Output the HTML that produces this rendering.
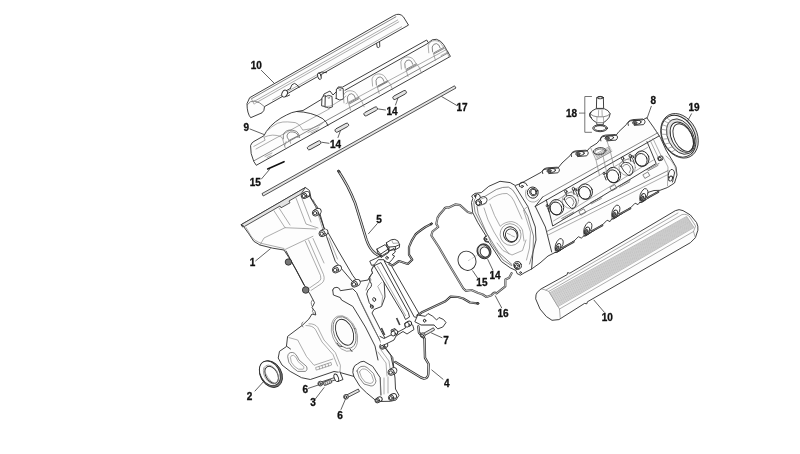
<!DOCTYPE html>
<html><head><meta charset="utf-8"><title>Engine covers</title>
<style>
html,body{margin:0;padding:0;background:#fff;}
svg{display:block;filter:grayscale(1)}
  .o{fill:#fdfdfd;stroke:#2b2b2b;stroke-width:0.9;stroke-linejoin:round;stroke-linecap:round}
.w{fill:#fff;stroke:#2b2b2b;stroke-width:0.9;stroke-linejoin:round;stroke-linecap:round}
.n{fill:none;stroke:#2b2b2b;stroke-width:0.9;stroke-linejoin:round;stroke-linecap:round}
.i{fill:none;stroke:#808080;stroke-width:0.65;stroke-linejoin:round;stroke-linecap:round}
.m{fill:none;stroke:#555;stroke-width:0.7;stroke-linejoin:round;stroke-linecap:round}
.g{fill:#e4e4e4;stroke:#2b2b2b;stroke-width:0.8;stroke-linejoin:round}
.d{fill:#777;stroke:#222;stroke-width:0.8}
.l{stroke:#3a3a3a;stroke-width:0.8;fill:none;stroke-linecap:round}
.s{stroke:#444;stroke-width:1.7;fill:none;stroke-linecap:butt}
.k{stroke:#111;stroke-width:1.6;fill:none;stroke-linecap:round}
text{font-family:"Liberation Sans",sans-serif;font-weight:bold;font-size:10px;fill:#111;stroke:#111;stroke-width:0.3px;text-anchor:middle}
</style></head><body>
<svg width="800" height="454" viewBox="0 0 800 454">
<rect width="800" height="454" fill="#fff"/>
<path class="o" d="M250,97.5 L393.8,15.6 Q399.4,12.4 403.4,16.8 L408.5,25.1 L264.5,106.6 L263.9,110.4 L262,112.8 L250.7,117.7 Q247,113.5 247,104 Z"/>
<line class="m" x1="251.9" y1="98.5" x2="395.9" y2="16.8"/>
<line class="i" x1="253.7" y1="101.7" x2="397.7" y2="20.0"/>
<line class="i" x1="254.8" y1="103.5" x2="398.8" y2="21.8"/>
<line class="i" x1="272.6" y1="100.0" x2="401.6" y2="26.8"/>
<path class="m" d="M247.4,104.6 Q250,100.6 254.5,101 Q260,102 264.5,106.6"/>
<path class="i" d="M251,98 L254,104"/>
<path class="n" d="M290.3,88.2 Q291.5,83.6 294.5,83.4 Q297,84 299.2,87.6"/>
<ellipse class="w" cx="284.6" cy="93.6" rx="2.6" ry="3.6" transform="rotate(25 284.6 93.6)"/>
<path class="n" d="M286.5,90.6 L290.5,88.4 M286.8,96.4 L289.6,95"/>
<ellipse class="w" cx="319.4" cy="76.2" rx="1.7" ry="3.4" transform="rotate(-15 319.4 76.2)"/>
<path class="n" d="M318.6,73 Q321,71 326.5,72.6"/>
<path class="n" d="M376.6,43.6 L377.2,47.2 Q378.6,48.2 379.8,46.6 L379.6,42.4"/>
<path class="o" d="M250.7,145.2 Q252,142 254,141.4 L263.9,135.8 L266.4,131.4 Q270,126 275.2,122 Q281,117.5 286.5,115 Q292,112 296.5,111.5 L303,110.5 L322,99 L324,94 L330,91 L333,95 L337,91 L338,87 L342.5,87.1 L426.7,40 L428.4,42.8 Q432,38.6 436.5,39.3 Q441,40.6 443.6,44.6 L450.4,56.4 L256.3,165.3 L253.8,161.5 L251.3,154 Z"/>
<line class="m" x1="253.8" y1="160.9" x2="448.6" y2="52.6"/>
<line class="i" x1="256" y1="149" x2="330" y2="108.5"/>
<line class="n" x1="345" y1="90.3" x2="428.2" y2="43.2"/>
<path class="n" d="M296.5,111.5 Q312,112 322.9,118.8 Q327,122 328,125.7"/>
<path class="i" d="M266.4,131.4 Q272,126 277.7,123.2 Q283,121.5 287.7,121.9 L295.3,122.6 Q299,124 300.3,126.3 L302.8,130.1 L310.4,128.8 L320.4,125.1 L322.9,122.6"/>
<path class="i" d="M264.5,137 Q268,135.4 272.7,135.1 Q278,135 281.5,137 Q283,139 283.3,141.4 L285.2,147.7"/>
<path class="m" d="M283.3,138.9 Q283,135 284,133.2 Q286,130.6 289,130.1 Q293,129.8 296.5,131.4 Q298.4,133 299,135.1 L299.6,137.6"/>
<path class="m" d="M288.4,139.5 Q286.6,137 287.1,135.1 Q288,132.6 290.3,132 Q293,131.6 295.3,132.6 Q297.4,133.6 297.8,135.1 L298,137.6"/>
<path class="m" d="M288.6,140.6 L296.5,136.6"/>
<path class="i" d="M253.8,146.4 L265.1,140.2 L263.9,137"/>
<path class="i" d="M284.6,146 L286.2,141.5 M290.6,143.4 L290,140.4"/>
<path class="i" d="M308,132.5 L319,127.5 M311,133 L318,129.8"/>
<path class="i" d="M265,156.5 L272,153 M267,157.6 L271,155.6"/>
<path class="w" d="M321.6,105.4 L322,97.8 Q323,95.8 325.5,95.6 L325.5,106.4 Z"/>
<path class="w" d="M325,106.8 L325.2,96.8 Q328.5,94.2 332,96.4 L332.4,106.9 Q328.7,109.3 325,106.8 Z"/>
<path class="w" d="M336.2,98.6 L336.4,89 Q339.8,86.4 343.2,88.6 L343.5,99 Q339.8,101.4 336.2,98.6 Z"/>
<ellipse class="i" cx="328.7" cy="97.8" rx="0.9" ry="0.7" transform="rotate(0 328.7 97.8)"/>
<ellipse class="i" cx="339.9" cy="90" rx="0.9" ry="0.7" transform="rotate(0 339.9 90)"/>
<path class="i" d="M323,106 Q330,108 336,103 Q342,100 346,96"/>
<line class="i" x1="346" y1="103.6" x2="446.4" y2="49.6"/>
<path class="i" d="M344.0,102.89999999999999 L343.40000000000003,95.7 Q345.1,90.8 350.1,90.7 Q355.6,90.89999999999999 357.6,95.8 L361.6,100.8 L364.1,106.8"/>
<path class="m" d="M347.8,101.89999999999999 L347.40000000000003,97.1 Q348.6,93.5 351.6,93.7 Q354.6,94.3 355.40000000000003,98.1"/>
<path class="m" d="M349.1,102.89999999999999 L358.6,97.7 M349.40000000000003,103.89999999999999 L358.90000000000003,98.7"/>
<path class="i" d="M348.6,103.3 L350.6,110.3"/>
<path class="i" d="M372.59999999999997,86.1 L372.0,78.9 Q373.7,74.0 378.7,73.9 Q384.2,74.1 386.2,79.0 L390.2,84.0 L392.7,90.0"/>
<path class="m" d="M376.4,85.1 L376.0,80.3 Q377.2,76.7 380.2,76.9 Q383.2,77.5 384.0,81.3"/>
<path class="m" d="M377.7,86.1 L387.2,80.9 M378.0,87.1 L387.5,81.9"/>
<path class="i" d="M377.2,86.5 L379.2,93.5"/>
<path class="i" d="M401.4,69.1 L400.8,61.9 Q402.5,57.0 407.5,56.9 Q413,57.1 415,62.0 L419,67.0 L421.5,73.0"/>
<path class="m" d="M405.2,68.1 L404.8,63.3 Q406,59.7 409,59.9 Q412,60.5 412.8,64.3"/>
<path class="m" d="M406.5,69.1 L416,63.9 M406.8,70.1 L416.3,64.9"/>
<path class="i" d="M406,69.5 L408,76.5"/>
<path class="i" d="M428.79999999999995,52.800000000000004 L428.2,45.6 Q429.9,40.7 434.9,40.6 Q440.4,40.800000000000004 442.4,45.7 L446.4,50.7 L448.9,56.7"/>
<path class="m" d="M432.59999999999997,51.800000000000004 L432.2,47.0 Q433.4,43.400000000000006 436.4,43.6 Q439.4,44.2 440.2,48.0"/>
<path class="m" d="M433.9,52.800000000000004 L443.4,47.6 M434.2,53.800000000000004 L443.7,48.6"/>
<path class="i" d="M433.4,53.2 L435.4,60.2"/>
<path class="i" d="M448,52 L441,55.6"/>
<rect class="g" x="306.7" y="143.5" width="15" height="3.6" rx="1.8" transform="rotate(-28.5 314.2 145.3)"/>
<rect class="g" x="334.3" y="125.9" width="15" height="3.6" rx="1.8" transform="rotate(-28.5 341.8 127.7)"/>
<rect class="g" x="363.2" y="109.60000000000001" width="15" height="3.6" rx="1.8" transform="rotate(-28.5 370.7 111.4)"/>
<rect class="g" x="392.1" y="93.2" width="15" height="3.6" rx="1.8" transform="rotate(-28.5 399.6 95)"/>
<line class="l" x1="322" y1="142.3" x2="329" y2="143.3"/>
<line class="l" x1="340.5" y1="130.5" x2="338" y2="137.5"/>
<line class="l" x1="378.5" y1="109" x2="385.5" y2="110"/>
<line class="l" x1="398" y1="98" x2="395.5" y2="105"/>
<text x="335.5" y="147.6">14</text>
<text x="392" y="115.0">14</text>
<line class="k" x1="267.7" y1="169" x2="284" y2="161.7"/>
<line class="l" x1="261.4" y1="179" x2="269.5" y2="169.5"/>
<text x="255.2" y="186.4">15</text>
<path class="g" d="M262,193.6 L454.5,85.8 L456,88 L263.2,196 Z"/>
<line class="l" x1="441.7" y1="96.6" x2="456.7" y2="105.4"/>
<text x="462" y="111.0">17</text>
<line class="l" x1="261.4" y1="70.4" x2="274" y2="83"/>
<text x="256.3" y="69.0">10</text>
<line class="l" x1="250" y1="129" x2="264" y2="134.5"/>
<text x="246.3" y="131.0">9</text>
<path class="o" d="M241.3,224.6 L305.4,187.5 L309.5,190.5 L311,198 L318,208 L319,214 L324,228 L328,232.5 L337.8,250 L352.8,275.5 L357,281 L360.4,281.3 L368,280 L369.6,277 L372.6,273 L371.4,270 L373.9,265.3 L378,268 L384,280 L385,297 L381.5,306.5 L374,309.5 L372,313 L380.8,330.3 L385.5,339 L384,346.5 L390.8,355.4 L393.5,368 L395,378 L395.5,389 L399,395.3 L396,400 L390.3,401.3 L377,401.5 L366.4,392.7 L360,386.5 L353.8,376.4 L340,372.5 L334,371.5 L314,378.3 L310.3,379.5 L301.5,377.7 L290.2,371.4 L282,365 L278.2,358 L279.5,351.3 L286.4,346.6 L287.6,336.4 L302.7,325 L308.9,319 L312,314 L315.8,315 L315,311.5 L312,307.7 L314.5,302.7 L310,294 L305.7,287.6 L296.3,270 L289,257.7 L284,250 L272.7,248.2 L260,245 L253.8,241.3 L248.8,233.8 L243.8,226.8 Z"/>
<path class="g" d="M241.3,224.6 L305.4,187.5 L301,194 L289,201 L290,202.8 L281,207.8 L280,206 L244.4,226.5 Z"/>
<path class="n" d="M241.3,224.6 L242.5,227"/>
<path class="i" d="M246,227.5 L251,236 Q254,241 262,243.5 L284,248.5"/>
<path class="i" d="M284,250 L312.9,236.3"/>
<path class="i" d="M274,210.8 L285,227.7 L316,229"/>
<path class="i" d="M279,208 L290,225"/>
<path class="i" d="M296,198 L306,224 L318,228"/>
<path class="i" d="M301,196 L311,222"/>
<path class="i" d="M260,245 L264,238 L285,227.7"/>
<path class="n" d="M309.5,196 L320,214 L326.5,236.3 L335.3,261.4 L352,281"/>
<path class="i" d="M313.5,200 L323,230"/>
<path class="i" d="M329,238 L337.5,259"/>
<path class="i" d="M305.4,241.3 L320.5,275.5 Q322,279.5 319,281.5 L309.5,288"/>
<path class="i" d="M308.6,240 L323.5,274.5 Q325.5,280.5 321.5,283.5 L311,290.5"/>
<path class="i" d="M313,238.5 L324,263"/>
<path class="n" d="M286,251 L304,285"/>
<ellipse class="w" cx="305.9" cy="194.7" rx="3.9" ry="2.9" transform="rotate(-28 305.9 194.7)"/>
<circle class="w" cx="304.1" cy="195.8" r="2.8"/>
<circle class="n" cx="303.8" cy="196.0" r="1.6"/>
<ellipse class="w" cx="317.2" cy="211.89999999999998" rx="4.2" ry="3.2" transform="rotate(-28 317.2 211.89999999999998)"/>
<circle class="w" cx="315.40000000000003" cy="213.0" r="3.1"/>
<circle class="n" cx="315.1" cy="213.2" r="1.7"/>
<ellipse class="w" cx="323.9" cy="232.5" rx="4.2" ry="3.2" transform="rotate(-28 323.9 232.5)"/>
<circle class="w" cx="322.1" cy="233.60000000000002" r="3.1"/>
<circle class="n" cx="321.8" cy="233.8" r="1.7"/>
<ellipse class="w" cx="337.29999999999995" cy="268.8" rx="4.4" ry="3.3" transform="rotate(-28 337.29999999999995 268.8)"/>
<circle class="w" cx="335.5" cy="269.90000000000003" r="3.1"/>
<circle class="n" cx="335.2" cy="270.1" r="1.8"/>
<ellipse class="w" cx="356.09999999999997" cy="283.0" rx="4.4" ry="3.3" transform="rotate(-28 356.09999999999997 283.0)"/>
<circle class="w" cx="354.3" cy="284.1" r="3.1"/>
<circle class="n" cx="354.0" cy="284.3" r="1.8"/>
<circle class="d" cx="288.4" cy="262" r="3.2"/>
<circle class="d" cx="305.7" cy="290" r="3.3"/>
<path class="m" d="M312.5,300 Q310,302 312,306 M313,309 Q311,311 314,314 M303,322 Q300,324 303,327"/>
<path class="n" d="M332.7,290 Q333,287 337,287.3 Q340,288 340.3,290.7 L352.8,288.8 L356.6,292.6 L360.4,301.4 L373,327 L383,346"/>
<path class="n" d="M332.7,290 L333.4,295 L340.3,297.6 L341.5,300 L352.8,306.4 L365.4,327 L375,346 L378,360"/>
<path class="i" d="M358,296 L371,322 L381,343"/>
<path class="n" d="M371.7,273.8 Q367,279 371,283 Q373,286 368,290 L366.7,293.9 L369.2,302.7 L373,308"/>
<path class="i" d="M381.4,282.6 L377.7,286.3 L382.7,296.4 L381.4,306.4"/>
<ellipse class="n" cx="374.2" cy="299.5" rx="1.4" ry="1.9" transform="rotate(-20 374.2 299.5)"/>
<ellipse class="n" cx="371.8" cy="306.6" rx="1.4" ry="1.8" transform="rotate(-20 371.8 306.6)"/>
<ellipse class="i" cx="344.5" cy="333.5" rx="12.2" ry="18.6" transform="rotate(-22 344.5 333.5)"/>
<ellipse class="m" cx="344.6" cy="332.6" rx="10.6" ry="16.6" transform="rotate(-22 344.6 332.6)"/>
<ellipse class="n" cx="344.6" cy="332.2" rx="8.2" ry="13.6" transform="rotate(-22 344.6 332.2)"/>
<path class="n" d="M337,343 L339,346 L342,346.5 M350,349 L352,351.5"/>
<path class="i" d="M309,323.8 Q315,323.5 317.8,327.6 L324,340 L335.4,352.7 L340.4,365.3 L340,372"/>
<path class="i" d="M306,325.5 Q313,325.5 315.5,329.6 L322,342 L333,354.5 L337.6,366"/>
<path class="i" d="M288.9,337.6 L297.7,340 L306.5,356.5 L314,365.3 L332.8,359"/>
<path class="n" d="M287,346.5 L290.5,349"/>
<path class="m" d="M287.7,356.3 Q288,352 292.7,352.5 Q296,353 299,360 L306.5,366.4 Q308,370 305.3,371.4 L297.7,371.4 Q292,368 289,362.6 Z"/>
<path class="i" d="M290.5,357 Q291,355 293.5,355.3 Q296,356 298,361.5 L303.7,366.6 Q304.5,368.7 303,369.2 L298.5,369.2 Q294,367 291.5,362.5 Z"/>
<path class="i" d="M316.6,370 L331.6,365 L331,362.4 L316,367.4 Z"/>
<line class="i" x1="319.6" y1="369" x2="319" y2="366.4"/>
<line class="i" x1="322.6" y1="368" x2="322" y2="365.4"/>
<line class="i" x1="325.6" y1="367" x2="325" y2="364.4"/>
<line class="i" x1="328.6" y1="366" x2="328" y2="363.4"/>
<path class="n" d="M353.2,368.9 Q354,365 357.6,363.8 Q361,361 363.9,361.3 L372.7,366.4 L380.2,377.7 L381,395"/>
<path class="n" d="M353.8,376.4 Q352,372 353.2,368.9"/>
<path class="m" d="M357,371 Q358,367.5 361,366.5 Q364.5,365.5 367,367.5 L373.5,373.5 L376,381 Q375,386 371,386 L364,384 Q358,378 357,371 Z"/>
<path class="i" d="M359.5,372 Q360.5,369.5 362.5,369 Q365,368.5 367,370 L371.5,374.5 L373.5,380.5 Q373,383.5 370,383.5 L365,382 Q360.5,377.5 359.5,372 Z"/>
<path class="i" d="M380.2,377.7 L380.5,395 M384,378 L384,394 M388,377 L388,393"/>
<path class="n" d="M385.3,347.5 L392.8,357.6 L394,370"/>
<path class="i" d="M381,350 L389,361 L390.5,372 M378,352 L386,363 L387,376"/>
<ellipse class="w" cx="384.09999999999997" cy="345.5" rx="3.8" ry="2.8" transform="rotate(-28 384.09999999999997 345.5)"/>
<circle class="w" cx="382.3" cy="346.6" r="2.7"/>
<circle class="n" cx="382.0" cy="346.8" r="1.5"/>
<ellipse class="w" cx="392.9" cy="371.2" rx="4.2" ry="3.2" transform="rotate(-28 392.9 371.2)"/>
<circle class="w" cx="391.1" cy="372.3" r="3.1"/>
<circle class="n" cx="390.8" cy="372.5" r="1.7"/>
<ellipse class="w" cx="392.9" cy="396.7" rx="3.8" ry="2.8" transform="rotate(-28 392.9 396.7)"/>
<circle class="w" cx="391.1" cy="397.8" r="2.7"/>
<circle class="n" cx="390.8" cy="398.0" r="1.5"/>
<ellipse class="w" cx="379.09999999999997" cy="399.5" rx="3.2" ry="2.5" transform="rotate(-28 379.09999999999997 399.5)"/>
<circle class="w" cx="377.3" cy="400.6" r="2.3"/>
<circle class="n" cx="377.0" cy="400.8" r="1.3"/>
<path class="w" d="M380,336.4 L384,338.5 L392,334.5 L391,330 L395,328.5 L397,332.5 L405.5,328 L404.5,323.5 L409,321.5 L412.7,325 L414,329.5 L407,334 L403,331.5 L396,336 L394,340 L386,344 L381,346"/>
<line class="s" x1="381.4" y1="328" x2="384.6" y2="335"/>
<line class="s" x1="396.6" y1="318" x2="399.8" y2="325"/>
<ellipse class="w" cx="394.6" cy="332.6" rx="3.2" ry="2.5" transform="rotate(-28 394.6 332.6)"/>
<ellipse class="w" cx="393.2" cy="333.6" rx="2.2" ry="2.4" transform="rotate(0 393.2 333.6)"/>
<ellipse class="w" cx="408.5" cy="323.8" rx="3.2" ry="2.5" transform="rotate(-28 408.5 323.8)"/>
<ellipse class="w" cx="407.1" cy="324.8" rx="2.2" ry="2.4" transform="rotate(0 407.1 324.8)"/>
<ellipse class="d" cx="270.9" cy="374.1" rx="10.6" ry="14.2" transform="rotate(-30 270.9 374.1)"/>
<ellipse class="w" cx="269.9" cy="373.3" rx="9.5" ry="13.1" transform="rotate(-30 269.9 373.3)"/>
<ellipse class="n" cx="271.6" cy="374.8" rx="5.8" ry="9.2" transform="rotate(-30 271.6 374.8)"/>
<ellipse class="i" cx="271.0" cy="374.5" rx="6.6" ry="10.2" transform="rotate(-30 271.0 374.5)"/>
<path class="i" d="M264,368 Q266,379 275,384"/>
<line class="l" x1="255" y1="391" x2="263.2" y2="382"/>
<text x="249.6" y="400.1">2</text>
<path class="g" d="M320.7,384.8 L335.8,379.8 L335.0,377.4 L319.9,382.4 Z"/>
<circle class="g" cx="320.3" cy="383.6" r="2.4"/>
<circle class="n" cx="319.8" cy="383.90000000000003" r="1.3"/>
<path class="g" d="M324.5,385.6 L331.8,382.6 L330.6,379.4 L323.3,382.4 Z"/>
<line class="m" x1="326" y1="385" x2="324.8" y2="381.8"/>
<line class="m" x1="328" y1="384.2" x2="326.8" y2="381"/>
<line class="m" x1="330" y1="383.4" x2="328.8" y2="380.2"/>
<path class="w" d="M334.5,374 L338,381.5 L343,379.5 L340,372"/>
<ellipse class="w" cx="336.3" cy="377.8" rx="2.0" ry="3.9" transform="rotate(-22 336.3 377.8)"/>
<path class="g" d="M346.6,398.0 L359.5,391.4 L358.3,389.0 L345.4,395.6 Z"/>
<circle class="g" cx="346" cy="396.8" r="2.4"/>
<circle class="n" cx="345.5" cy="397.1" r="1.3"/>
<line class="l" x1="308.4" y1="388.3" x2="317.8" y2="385.2"/>
<text x="305.3" y="393.3">6</text>
<line class="l" x1="315.3" y1="399" x2="324" y2="387.7"/>
<text x="313" y="405.8">3</text>
<line class="l" x1="341" y1="409.5" x2="345.3" y2="399.5"/>
<text x="340" y="419.1">6</text>
<line class="l" x1="255.7" y1="260.8" x2="270.2" y2="248.9"/>
<text x="252.6" y="265.8">1</text>
<path d="M338.8,171.5 Q343,178 347.6,186.3 Q352,195 355,202.7 L361,222 L366.4,239.6 Q369,247 372.6,250.9 Q376,255 381,256.5" fill="none" stroke="#2b2b2b" stroke-width="2.6" stroke-linecap="round" stroke-linejoin="round"/>
<path d="M338.8,171.5 Q343,178 347.6,186.3 Q352,195 355,202.7 L361,222 L366.4,239.6 Q369,247 372.6,250.9 Q376,255 381,256.5" fill="none" stroke="#ddd" stroke-width="1.1" stroke-linecap="round" stroke-linejoin="round"/>
<ellipse class="d" cx="338.7" cy="171.2" rx="1.3" ry="0.9" transform="rotate(30 338.7 171.2)"/>
<line class="l" x1="377.3" y1="223.6" x2="368.4" y2="233.8"/>
<text x="379" y="223.2">5</text>
<path class="w" d="M374.4,265.6 L381,262.6 L408.4,312.6 L409.5,317 L405.5,319.5 L403.5,314.9 Z"/>
<path class="w" d="M384.3,260.6 L389.6,262.6 L419.6,314.6 L417.7,317.5 L414.6,317 Z"/>
<path class="i" d="M377.6,266.4 L405.6,315.6"/>
<path class="w" d="M370.1,261 L375.8,258.4 L382.7,255.3 L394,248.4 L395.3,252 L392.1,254.7 L394.6,256 L392.1,259.7 L389,262.8 L386.5,262.2 L384,259.7 L378.3,259.7 L375.2,263.5 L374.5,264.7 L372,265.3 Z"/>
<path class="w" d="M377,249 L385.2,244.6 L388.3,249 L380.8,254 Z"/>
<path class="n" d="M377,249 L377.6,252.6 L381.2,257.4 L380.8,254 M381.2,257.4 L388.6,252.6 L388.3,249"/>
<path class="w" d="M386.5,242.7 L391.5,239.6 Q395,238.6 397.8,240.8 L399.6,244.6 L395.3,246.5 L389,247.1 Z"/>
<path class="n" d="M386.5,242.7 L386.8,246 L389,250.4 L389,247.1 M389,250.4 L395.6,249.6 L395.3,246.5 M399.6,244.6 L399.4,247.4 L395.6,249.6"/>
<path class="i" d="M391.5,239.6 L393,243.4 L398,243"/>
<ellipse class="n" cx="387" cy="257.8" rx="1.1" ry="1.5" transform="rotate(-20 387 257.8)"/>
<path class="m" d="M373.9,265.3 L371.4,270 L372.6,273 L369.6,277 L371,280 L368.9,283 L366,290"/>
<path d="M431.2,224 L425.4,227 Q418,232 415.4,234.6 Q411,241 409,247 L409,254.7 L412.2,259.7 L407.8,264 L399,261 L392.7,265.3 L389.5,264.2" fill="none" stroke="#2b2b2b" stroke-width="2.2" stroke-linecap="round" stroke-linejoin="round"/>
<path d="M431.2,224 L425.4,227 Q418,232 415.4,234.6 Q411,241 409,247 L409,254.7 L412.2,259.7 L407.8,264 L399,261 L392.7,265.3 L389.5,264.2" fill="none" stroke="#eee" stroke-width="0.7" stroke-linecap="round" stroke-linejoin="round"/>
<ellipse class="d" cx="431.4" cy="223.8" rx="1.2" ry="0.9" transform="rotate(-30 431.4 223.8)"/>
<path d="M417.5,315.5 L421.5,312.6 L445.4,301.3 L450.6,296.6 L458,297 L463.2,298.5 L470,302.5 L477.5,303.3" fill="none" stroke="#2b2b2b" stroke-width="2.2" stroke-linecap="round" stroke-linejoin="round"/>
<path d="M417.5,315.5 L421.5,312.6 L445.4,301.3 L450.6,296.6 L458,297 L463.2,298.5 L470,302.5 L477.5,303.3" fill="none" stroke="#eee" stroke-width="0.7" stroke-linecap="round" stroke-linejoin="round"/>
<ellipse class="d" cx="477.8" cy="303.4" rx="1.3" ry="0.9" transform="rotate(10 477.8 303.4)"/>
<path class="w" d="M415,321.4 L417.7,315 L425.3,316.3 L428,313.5 L432.8,316.3 L436.6,320 L439,317.5 L443.5,319.5 L446,322.6 L442.8,327 L437.8,328.9 L434,325 L421.5,325 Z"/>
<ellipse class="n" cx="424.6" cy="320.7" rx="1.2" ry="1.5" transform="rotate(-20 424.6 320.7)"/>
<path class="i" d="M421.5,325 L434,325"/>
<line class="l" x1="431.5" y1="333" x2="442" y2="337.7"/>
<text x="446" y="343.8">7</text>
<path d="M418.3,326.4 L419,332.7 L424.5,338.5 L425,357.8 L428.6,364 L428.3,374 Q428,378.5 424,378.6 L421,377.5 L395.3,362" fill="none" stroke="#2b2b2b" stroke-width="2.4" stroke-linecap="round" stroke-linejoin="round"/>
<path d="M418.3,326.4 L419,332.7 L424.5,338.5 L425,357.8 L428.6,364 L428.3,374 Q428,378.5 424,378.6 L421,377.5 L395.3,362" fill="none" stroke="#e8e8e8" stroke-width="0.9" stroke-linecap="round" stroke-linejoin="round"/>
<line class="l" x1="431.8" y1="370" x2="443" y2="379.2"/>
<text x="446.8" y="387.1">4</text>
<path class="g" d="M423.3,336.3 L434.6,330.0 L433.4,327.8 L422.1,334.1 Z"/>
<circle class="g" cx="422.7" cy="335.2" r="2.4"/>
<circle class="n" cx="422.2" cy="335.5" r="1.3"/>
<path d="M471.5,213.2 L467.7,212 L460.2,205.2 L455.2,204.4 L448.9,207.6 Q445,206.5 443.5,210 L440,213.9 L437.6,217.6 L436.3,223.9 L438.2,227 L432.5,231.5 L431.3,235.5 L438.8,247 L446.3,260 L463.2,288.3 L465.8,290.8 L471.4,290 L477.7,292.7 L482.7,294.5 L486.5,297 L491.5,295.2 Q494,291.5 496.5,293.3 L505.3,286.4 L505.4,279.5 L509.2,277.7 L511.6,273.2" fill="none" stroke="#4a4a4a" stroke-width="2.2" stroke-linecap="round" stroke-linejoin="round"/>
<path d="M471.5,213.2 L467.7,212 L460.2,205.2 L455.2,204.4 L448.9,207.6 Q445,206.5 443.5,210 L440,213.9 L437.6,217.6 L436.3,223.9 L438.2,227 L432.5,231.5 L431.3,235.5 L438.8,247 L446.3,260 L463.2,288.3 L465.8,290.8 L471.4,290 L477.7,292.7 L482.7,294.5 L486.5,297 L491.5,295.2 Q494,291.5 496.5,293.3 L505.3,286.4 L505.4,279.5 L509.2,277.7 L511.6,273.2" fill="none" stroke="#fafafa" stroke-width="0.7" stroke-linecap="round" stroke-linejoin="round"/>
<line class="l" x1="495.3" y1="295.8" x2="501.6" y2="307.7"/>
<text x="503" y="317.0">16</text>
<ellipse class="w" cx="467" cy="260.8" rx="8.8" ry="9.8" transform="rotate(-25 467 260.8)"/>
<line x1="468" y1="260.8" x2="485" y2="250.7" stroke="#999" stroke-width="0.5" stroke-dasharray="3 1.2"/>
<ellipse class="d" cx="484" cy="251.3" rx="6.9" ry="7.6" transform="rotate(-25 484 251.3)"/>
<ellipse class="g" cx="483.4" cy="251" rx="5.6" ry="6.4" transform="rotate(-25 483.4 251)"/>
<ellipse class="w" cx="484.8" cy="252" rx="4.4" ry="5.2" transform="rotate(-25 484.8 252)"/>
<line class="l" x1="472.7" y1="270.8" x2="477.8" y2="278.3"/>
<text x="481.9" y="286.2">15</text>
<line class="l" x1="487.8" y1="259.5" x2="492.8" y2="270"/>
<text x="495" y="279.2">14</text>
<path class="o" d="M472,195.7 L475,193.4 L481.3,192.6 L488.8,186.3 L500,181.3 L510.2,182.6 L515.2,185.5 L520,183.8 L541.3,172.2 Q543,168.5 548,168.8 L558,168 L562,163 L570.2,155.5 Q572,151.5 577,151.8 L587,151 L590,147.5 L597,143.2 L600,139.5 Q601,136 606,136 L616,135.3 L619,131.5 L626.4,124.5 Q628,120.5 633,120.6 L643,119.8 L646.7,117.7 L653,126.5 L660.4,137.6 L666,150 L672,160 L676,167 L677,175 L674.5,183 L667.5,187.5 L660,190.3 L654,190.5 L648,192.4 L645,200.4 L639.6,202.6 L638.0,204.6 L635.1,203.2 L630.8,207.5 L616.5,217.1 L611.6,219.1 L610.0,221.6 L607.1,220.2 L602.8,224.5 L588.5,234.1 L583.6,236.1 L581.3,238.1 L578.4,236.7 L574.1,241.0 L559.8,250.6 L554.9,252.6 L548,256 L540,263 L531.6,269 L524,273 L520.4,275.2 L517,273.5 L516,270.5 L510.2,267.8 L501.4,261.5 L489,242.5 L485,241.5 L484,238 L486.3,236.4 L477.8,222.7 L472.7,212.6 L471.5,202.6 L472.7,198.8 Z"/>
<path class="n" d="M515.2,186.3 L527.8,206.4 L535.3,227 L536,240 L533,252 L531.6,269"/>
<path class="m" d="M474.6,199.6 L473.8,203 L475,212 L480,222 L488.5,236.6 L491,243 L503,260 L511.6,265.6"/>
<path class="m" d="M477,206.5 L478.2,213.7 L486.6,233.1 L498.7,252.5 L512,264.6"/>
<path class="m" d="M484.2,196.8 L496.3,189.5 Q503,186.6 508.4,187.1 Q513,189 515.7,194.4 L527.8,216.2 L533.5,236 L533,252 L529.5,264"/>
<path class="i" d="M489,200 Q498,193 507,193.5 Q512,196 514,201 L522,219"/>
<path class="i" d="M484,208 Q487,220 494,232 Q500,243 509,254"/>
<path class="i" d="M490,204 Q494,216 500,226"/>
<path class="i" d="M527.8,206.4 L523.5,210 L530.5,232 L529.5,248 L526.5,260"/>
<path class="i" d="M497,243 L503,250.5 L512,255 L522.5,250.5 L526,240"/>
<path class="i" d="M500.5,226 Q505,221.5 512,221.6 Q519,223 522.5,230 L524,241"/>
<ellipse class="w" cx="482.6" cy="200.6" rx="4.6" ry="3.6" transform="rotate(-25 482.6 200.6)"/>
<ellipse class="w" cx="478.6" cy="202.6" rx="2.9" ry="3.2" transform="rotate(-20 478.6 202.6)"/>
<ellipse class="n" cx="478.2" cy="203" rx="1.9" ry="2.2" transform="rotate(-20 478.2 203)"/>
<path class="i" d="M479.6,199.6 L485.4,197.4 M480.6,205.6 L486,203.4"/>
<path class="n" d="M475.6,198.2 Q474.4,194.6 477.5,194 Q480.2,194.4 480.4,197"/>
<ellipse class="n" cx="475.2" cy="195.8" rx="0.8" ry="1.0" transform="rotate(0 475.2 195.8)"/>
<ellipse class="i" cx="510.6" cy="234.6" rx="10.4" ry="11.0" transform="rotate(-25 510.6 234.6)"/>
<ellipse class="n" cx="510.7" cy="234.5" rx="7.0" ry="7.9" transform="rotate(-25 510.7 234.5)"/>
<ellipse class="n" cx="511.3" cy="235.3" rx="5.7" ry="6.5" transform="rotate(-25 511.3 235.3)"/>
<path class="i" d="M507.5,233.5 l3,1.2 M511.5,235.6 l3,1.2"/>
<ellipse class="w" cx="517.6" cy="265.4" rx="3.7" ry="4.0" transform="rotate(-20 517.6 265.4)"/>
<ellipse class="n" cx="517" cy="266" rx="2.6" ry="2.9" transform="rotate(-20 517 266)"/>
<ellipse class="n" cx="516.8" cy="266.2" rx="1.3" ry="1.5" transform="rotate(-20 516.8 266.2)"/>
<ellipse class="n" cx="520.6" cy="272.6" rx="0.9" ry="0.9" transform="rotate(0 520.6 272.6)"/>
<path class="n" d="M486.5,236 Q483.5,236.5 484,239.5 Q485,242 488.5,241.5"/>
<ellipse class="n" cx="485.9" cy="239.3" rx="0.9" ry="1.1" transform="rotate(0 485.9 239.3)"/>
<ellipse class="w" cx="532.8" cy="192.6" rx="5.4" ry="5.6" transform="rotate(-20 532.8 192.6)"/>
<ellipse class="n" cx="533.2" cy="192.2" rx="3.4" ry="3.7" transform="rotate(-20 533.2 192.2)"/>
<ellipse class="n" cx="533.4" cy="192" rx="2.6" ry="2.9" transform="rotate(-20 533.4 192)"/>
<path class="i" d="M526,190 Q524,197 529,201 Q535,204 539,199"/>
<path class="n" d="M519.4,186.4 Q518.8,182.4 522.5,182.2 Q526.4,182.4 527.4,185.6"/>
<ellipse class="n" cx="522" cy="186.6" rx="1.3" ry="1.0" transform="rotate(-20 522 186.6)"/>
<line class="m" x1="542.6" y1="197" x2="657.8" y2="132.8"/>
<line class="n" x1="535.3" y1="206.4" x2="659" y2="136"/>
<path class="n" d="M535.3,206.4 L542.6,197 M535.3,206.4 L545.4,227 L551.7,252"/>
<path class="m" d="M546.8,231.5 L668,170.6"/>
<line class="i" x1="548" y1="235" x2="669" y2="174"/>
<path class="n" d="M546.4,200 L552.7,226 L656.2,163.5 L647,141.6"/>
<path class="i" d="M549.5,204.2 L647.5,147.5 M553.5,221 L653.5,160"/>
<path class="i" d="M650,140 L658.5,158 M653,138.6 L661,155.5"/>
<ellipse class="w" cx="660.4" cy="158.3" rx="2.6" ry="2.2" transform="rotate(-25 660.4 158.3)"/>
<ellipse class="n" cx="659.8" cy="158.8" rx="1.5" ry="1.3" transform="rotate(-25 659.8 158.8)"/>
<ellipse class="n" cx="556.7" cy="207.2" rx="7.0" ry="7.8" transform="rotate(-20 556.7 207.2)"/>
<ellipse class="n" cx="556.0" cy="208.5" rx="5.8" ry="6.5" transform="rotate(-20 556.0 208.5)"/>
<path class="n" d="M547.7,208.2 L549.2,212.2"/>
<ellipse class="n" cx="547.2" cy="205.7" rx="1.0" ry="1.3" transform="rotate(0 547.2 205.7)"/>
<path class="m" d="M561.7,218.39999999999998 l12,-6.4 M562.7,219.39999999999998 l10,-5.4"/>
<ellipse class="n" cx="585.4" cy="191.6" rx="7.0" ry="7.8" transform="rotate(-20 585.4 191.6)"/>
<ellipse class="n" cx="584.6999999999999" cy="192.9" rx="5.8" ry="6.5" transform="rotate(-20 584.6999999999999 192.9)"/>
<path class="n" d="M576.4,192.6 L577.9,196.6"/>
<ellipse class="n" cx="575.9" cy="190.1" rx="1.0" ry="1.3" transform="rotate(0 575.9 190.1)"/>
<path class="m" d="M590.4,202.79999999999998 l12,-6.4 M591.4,203.79999999999998 l10,-5.4"/>
<ellipse class="n" cx="613.6" cy="175.0" rx="7.0" ry="7.8" transform="rotate(-20 613.6 175.0)"/>
<ellipse class="n" cx="612.9" cy="176.3" rx="5.8" ry="6.5" transform="rotate(-20 612.9 176.3)"/>
<path class="n" d="M604.6,176.0 L606.1,180.0"/>
<ellipse class="n" cx="604.1" cy="173.5" rx="1.0" ry="1.3" transform="rotate(0 604.1 173.5)"/>
<path class="m" d="M618.6,186.2 l12,-6.4 M619.6,187.2 l10,-5.4"/>
<ellipse class="n" cx="642" cy="158.6" rx="7.0" ry="7.8" transform="rotate(-20 642 158.6)"/>
<ellipse class="n" cx="641.3" cy="159.9" rx="5.8" ry="6.5" transform="rotate(-20 641.3 159.9)"/>
<path class="n" d="M633,159.6 L634.5,163.6"/>
<ellipse class="n" cx="632.5" cy="157.1" rx="1.0" ry="1.3" transform="rotate(0 632.5 157.1)"/>
<path class="m" d="M647,169.79999999999998 l12,-6.4 M648,170.79999999999998 l10,-5.4"/>
<ellipse class="i" cx="570.4" cy="200.4" rx="8.2" ry="8.0" transform="rotate(0 570.4 200.4)"/>
<path class="n" d="M564.1,199.20000000000002 Q565.4,195.4 568.9,195.4 Q572.4,194.8 575.4,198.8 Q577.4,202.4 575.4,206.6 Q573.0,209.4 571.4,208.4 Q566.4,204.4 564.1,199.20000000000002 Z"/>
<path class="m" d="M565.8,199.8 Q567.4,196.8 570.4,197.4 Q573.4,198.4 574.0,202.4 L572.4,205.8"/>
<ellipse class="n" cx="565.8" cy="191.4" rx="1.2" ry="1.5" transform="rotate(0 565.8 191.4)"/>
<ellipse class="n" cx="573.4" cy="188.8" rx="1.2" ry="1.5" transform="rotate(0 573.4 188.8)"/>
<path class="n" d="M565.8,193.0 l0.8,2.4 M573.4,190.4 l0.6,4"/>
<ellipse class="i" cx="627.2" cy="167.4" rx="8.2" ry="8.0" transform="rotate(0 627.2 167.4)"/>
<path class="n" d="M620.9000000000001,166.20000000000002 Q622.2,162.4 625.7,162.4 Q629.2,161.8 632.2,165.8 Q634.2,169.4 632.2,173.6 Q629.8000000000001,176.4 628.2,175.4 Q623.2,171.4 620.9000000000001,166.20000000000002 Z"/>
<path class="m" d="M622.6,166.8 Q624.2,163.8 627.2,164.4 Q630.2,165.4 630.8000000000001,169.4 L629.2,172.8"/>
<ellipse class="n" cx="622.6" cy="158.4" rx="1.2" ry="1.5" transform="rotate(0 622.6 158.4)"/>
<ellipse class="n" cx="630.2" cy="155.8" rx="1.2" ry="1.5" transform="rotate(0 630.2 155.8)"/>
<path class="n" d="M622.6,160.0 l0.8,2.4 M630.2,157.4 l0.6,4"/>
<path class="m" d="M579.2,211.4 l4.6,-2.6 l2,3.6 l-4.6,2.6 Z"/>
<path class="m" d="M610.2,187.20000000000002 l4.6,-2.6 l2,3.6 l-4.6,2.6 Z"/>
<path class="m" d="M643.2,174.6 l4.6,-2.6 l2,3.6 l-4.6,2.6 Z"/>
<path class="i" d="M590.5,147.5 L596,160 L610.5,152 L607,141"/>
<path class="i" d="M596,160 L599.5,175.5 M610.5,152 L614,167.5 M603,156 L606.5,171.5"/>
<ellipse class="n" cx="599.7" cy="151.2" rx="6.3" ry="3.5" transform="rotate(-8 599.7 151.2)"/>
<ellipse class="m" cx="599.7" cy="151.6" rx="5.0" ry="2.5" transform="rotate(-8 599.7 151.6)"/>
<line class="i" x1="595.0" y1="154.5" x2="609.5" y2="146.5"/>
<line class="i" x1="595.6" y1="155.7" x2="610.1" y2="147.7"/>
<line class="i" x1="596.2" y1="156.9" x2="610.7" y2="148.9"/>
<line class="i" x1="596.8" y1="158.1" x2="611.3" y2="150.1"/>
<line class="i" x1="597.4" y1="159.3" x2="611.9" y2="151.3"/>
<path class="n" d="M542.7,173.6 Q540.9000000000001,168.79999999999998 547.3000000000001,167.79999999999998 L557.3000000000001,167.2 Q561.3000000000001,169.4 557.9000000000001,172.79999999999998 L548.7,173.6"/>
<ellipse class="n" cx="551.2" cy="170.6" rx="4.3" ry="2.0" transform="rotate(-6 551.2 170.6)"/>
<ellipse class="d" cx="549.7" cy="170.9" rx="1.8" ry="1.0" transform="rotate(-6 549.7 170.9)"/>
<path class="n" d="M571.5,156.6 Q569.7,151.79999999999998 576.1,150.79999999999998 L586.1,150.2 Q590.1,152.4 586.7,155.79999999999998 L577.5,156.6"/>
<ellipse class="n" cx="580.0" cy="153.6" rx="4.3" ry="2.0" transform="rotate(-6 580.0 153.6)"/>
<ellipse class="d" cx="578.5" cy="153.9" rx="1.8" ry="1.0" transform="rotate(-6 578.5 153.9)"/>
<path class="n" d="M600.8,140.9 Q599.0,136.1 605.4,135.1 L615.4,134.5 Q619.4,136.70000000000002 616.0,140.1 L606.8,140.9"/>
<ellipse class="n" cx="609.3" cy="137.9" rx="4.3" ry="2.0" transform="rotate(-6 609.3 137.9)"/>
<ellipse class="d" cx="607.8" cy="138.20000000000002" rx="1.8" ry="1.0" transform="rotate(-6 607.8 138.20000000000002)"/>
<path class="n" d="M628.3,125.4 Q626.5,120.60000000000001 632.9,119.60000000000001 L642.9,119.0 Q646.9,121.2 643.5,124.60000000000001 L634.3,125.4"/>
<ellipse class="n" cx="636.8" cy="122.4" rx="4.3" ry="2.0" transform="rotate(-6 636.8 122.4)"/>
<ellipse class="d" cx="635.3" cy="122.7" rx="1.8" ry="1.0" transform="rotate(-6 635.3 122.7)"/>
<path class="w" d="M555.3,251 Q553.6999999999999,243.5 559.6999999999999,238.6 Q564.3,238.4 562.9,244.5 L559.9,250.6"/>
<ellipse class="n" cx="558.1999999999999" cy="247.2" rx="2.2" ry="3.9" transform="rotate(22 558.1999999999999 247.2)"/>
<ellipse class="d" cx="557.5999999999999" cy="248.2" rx="1.1" ry="2.4" transform="rotate(22 557.5999999999999 248.2)"/>
<path class="n" d="M554.9,252.6 Q557.3,253.2 559.8,250.6 L574.0999999999999,241"/>
<path d="M563.0999999999999,247.6 L573.6999999999999,241.8" fill="none" stroke="#333" stroke-width="1.9" stroke-linecap="round" stroke-linejoin="round"/>
<path d="M563.0999999999999,247.6 L573.6999999999999,241.8" fill="none" stroke="#d8d8d8" stroke-width="0.4" stroke-linecap="round" stroke-linejoin="round"/>
<path class="w" d="M584,234.5 Q582.4,227.0 588.4,222.1 Q593,221.9 591.6,228.0 L588.6,234.1"/>
<ellipse class="n" cx="586.9" cy="230.7" rx="2.2" ry="3.9" transform="rotate(22 586.9 230.7)"/>
<ellipse class="d" cx="586.3" cy="231.7" rx="1.1" ry="2.4" transform="rotate(22 586.3 231.7)"/>
<path class="n" d="M583.6,236.1 Q586,236.7 588.5,234.1 L602.8,224.5"/>
<path d="M591.8,231.1 L602.4,225.3" fill="none" stroke="#333" stroke-width="1.9" stroke-linecap="round" stroke-linejoin="round"/>
<path d="M591.8,231.1 L602.4,225.3" fill="none" stroke="#d8d8d8" stroke-width="0.4" stroke-linecap="round" stroke-linejoin="round"/>
<path class="w" d="M612,217.5 Q610.4,210.0 616.4,205.1 Q621,204.9 619.6,211.0 L616.6,217.1"/>
<ellipse class="n" cx="614.9" cy="213.7" rx="2.2" ry="3.9" transform="rotate(22 614.9 213.7)"/>
<ellipse class="d" cx="614.3" cy="214.7" rx="1.1" ry="2.4" transform="rotate(22 614.3 214.7)"/>
<path class="n" d="M611.6,219.1 Q614,219.7 616.5,217.1 L630.8,207.5"/>
<path d="M619.8,214.1 L630.4,208.3" fill="none" stroke="#333" stroke-width="1.9" stroke-linecap="round" stroke-linejoin="round"/>
<path d="M619.8,214.1 L630.4,208.3" fill="none" stroke="#d8d8d8" stroke-width="0.4" stroke-linecap="round" stroke-linejoin="round"/>
<path class="w" d="M640,201 Q638.4,193.5 644.4,188.6 Q649,188.4 647.6,194.5 L644.6,200.6"/>
<ellipse class="n" cx="642.9" cy="197.2" rx="2.2" ry="3.9" transform="rotate(22 642.9 197.2)"/>
<ellipse class="d" cx="642.3" cy="198.2" rx="1.1" ry="2.4" transform="rotate(22 642.3 198.2)"/>
<path class="n" d="M639.6,202.6 Q642,203.2 644.5,200.6 L658.8,191"/>
<path d="M647.8,197.6 L658.4,191.8" fill="none" stroke="#333" stroke-width="1.9" stroke-linecap="round" stroke-linejoin="round"/>
<path d="M647.8,197.6 L658.4,191.8" fill="none" stroke="#d8d8d8" stroke-width="0.4" stroke-linecap="round" stroke-linejoin="round"/>
<path class="i" d="M666,156 Q672,160 675,166.5 L676.5,174"/>
<path class="i" d="M662.5,156 L668,167 L667.5,186"/>
<path class="w" d="M668.5,178 Q667.5,172 671,169.5 Q674,169 674.5,173 L672.5,182"/>
<ellipse class="n" cx="670.6" cy="178.6" rx="1.7" ry="2.6" transform="rotate(25 670.6 178.6)"/>
<path class="i" d="M653,126.5 L658,133.7"/>
<line class="l" x1="651.3" y1="106.3" x2="647" y2="118.5"/>
<text x="653.2" y="104.4">8</text>
<ellipse class="g" cx="679.5" cy="135.8" rx="17.4" ry="23.4" transform="rotate(-27 679.5 135.8)"/>
<ellipse class="w" cx="678.6" cy="136.2" rx="16.0" ry="21.9" transform="rotate(-27 678.6 136.2)"/>
<ellipse class="g" cx="680.6" cy="136.6" rx="12.6" ry="18.8" transform="rotate(-27 680.6 136.6)"/>
<ellipse class="w" cx="681.8" cy="137.2" rx="10.2" ry="16.2" transform="rotate(-27 681.8 137.2)"/>
<ellipse class="n" cx="683.2" cy="137.6" rx="8.8" ry="14.8" transform="rotate(-27 683.2 137.6)"/>
<line class="i" x1="675.1" y1="149.9" x2="671.2" y2="152.2"/>
<line class="i" x1="672.2" y1="146.7" x2="667.6" y2="148.6"/>
<line class="i" x1="669.7" y1="142.9" x2="664.7" y2="144.1"/>
<line class="i" x1="667.8" y1="138.7" x2="662.6" y2="139.2"/>
<line class="i" x1="666.8" y1="134.4" x2="661.4" y2="134.2"/>
<line class="i" x1="666.5" y1="130.2" x2="661.3" y2="129.2"/>
<line class="i" x1="667.1" y1="126.4" x2="662.2" y2="124.7"/>
<line class="i" x1="668.5" y1="123.2" x2="664.0" y2="120.8"/>
<line class="i" x1="670.6" y1="120.8" x2="666.8" y2="117.9"/>
<line class="l" x1="691.5" y1="113.8" x2="687.7" y2="120.8"/>
<text x="694" y="111.2">19</text>
<path class="w" d="M597,97.5 Q600.2,95.6 603.4,97.5 L603.6,108.4 L596.8,108.4 Z"/>
<ellipse class="n" cx="600.2" cy="97.6" rx="3.2" ry="1.2" transform="rotate(0 600.2 97.6)"/>
<path class="w" d="M590,113.8 Q591.5,110 596,108.8 L604.5,108.8 Q608.5,110 610.2,113.8 L609,117.5 Q606,121.5 603.5,122.6 L596.5,122.6 Q592,120.5 590.5,117 Z"/>
<path class="m" d="M590,113.8 Q593,116.5 597,116.8 L603.5,116.8 Q607.5,116.4 610.2,113.8"/>
<path class="i" d="M597,116.8 L596.8,122.4 M603.5,116.8 L603.6,122.4 M598.6,110.5 L598.4,116 M602,110.5 L602.2,116"/>
<path class="n" d="M590.6,112 Q589,113.5 589.8,116.5 L591.6,117.8"/>
<path class="g" d="M596.5,122.6 L597.2,125.2 L603,125.2 L603.5,122.6"/>
<ellipse class="n" cx="600.1" cy="128.2" rx="7.4" ry="3.5" transform="rotate(0 600.1 128.2)"/>
<ellipse class="n" cx="600.1" cy="128.2" rx="6.1" ry="2.5" transform="rotate(0 600.1 128.2)"/>
<path class="l" d="M591.5,96.5 L584.8,96.5 L584.8,132.3 L591.5,132.3 M579.4,113.1 L584.8,113.1" style="stroke:#666;stroke-width:0.9"/>
<text x="571.6" y="117.2">18</text>
<path class="o" d="M541.3,288.8 L567.2,274.6 L567.6,272.6 L569.8,273.2 L675.3,210.7 Q679,208.6 683,210.6 L690.4,215 L696.6,222.6 Q698.4,226 697.9,230.2 L695.4,237.7 L690.4,242.7 L587.4,301.8 L586.8,303.8 L584.6,303.4 L558.9,319.6 L552,320.3 L546.3,316.5 L540,309 L535.7,298.9 Q535.6,294 536.9,292.6 Z"/>
<path class="i" d="M541.3,288.8 Q545,289.6 548.8,291.4 L559.5,309 L560.2,317.5"/>
<path class="i" d="M548.8,291.4 L682,214.6 Q687,213.6 689.4,216.4"/>
<path class="i" d="M546,290 L678,213"/>
<path class="i" d="M559.5,309 L693.5,231.5 L695.4,237.7"/>
<path class="i" d="M689.4,216.4 L695.6,226 L693.5,231.5"/>
<path class="i" d="M550.1,292.6 L686.6,216.4 L694,227.5 L558.3,306.4 Z" style="fill:#ececec;stroke:#888;stroke-width:0.5"/>
<line x1="550.7" y1="293.6" x2="687.1" y2="217.2" stroke="#9a9a9a" stroke-width="0.5"/>
<line x1="551.3" y1="294.6" x2="687.7" y2="218.0" stroke="#9a9a9a" stroke-width="0.5"/>
<line x1="551.9" y1="295.6" x2="688.2" y2="218.8" stroke="#9a9a9a" stroke-width="0.5"/>
<line x1="552.4" y1="296.5" x2="688.7" y2="219.6" stroke="#9a9a9a" stroke-width="0.5"/>
<line x1="553.0" y1="297.5" x2="689.2" y2="220.4" stroke="#9a9a9a" stroke-width="0.5"/>
<line x1="553.6" y1="298.5" x2="689.8" y2="221.2" stroke="#9a9a9a" stroke-width="0.5"/>
<line x1="554.2" y1="299.5" x2="690.3" y2="221.9" stroke="#9a9a9a" stroke-width="0.5"/>
<line x1="554.8" y1="300.5" x2="690.8" y2="222.7" stroke="#9a9a9a" stroke-width="0.5"/>
<line x1="555.4" y1="301.5" x2="691.4" y2="223.5" stroke="#9a9a9a" stroke-width="0.5"/>
<line x1="556.0" y1="302.5" x2="691.9" y2="224.3" stroke="#9a9a9a" stroke-width="0.5"/>
<line x1="556.5" y1="303.4" x2="692.4" y2="225.1" stroke="#9a9a9a" stroke-width="0.5"/>
<line x1="557.1" y1="304.4" x2="692.9" y2="225.9" stroke="#9a9a9a" stroke-width="0.5"/>
<line x1="557.7" y1="305.4" x2="693.5" y2="226.7" stroke="#9a9a9a" stroke-width="0.5"/>
<line class="l" x1="594" y1="300.2" x2="604.1" y2="312"/>
<text x="607.3" y="321.0">10</text>
</svg>
</body></html>
